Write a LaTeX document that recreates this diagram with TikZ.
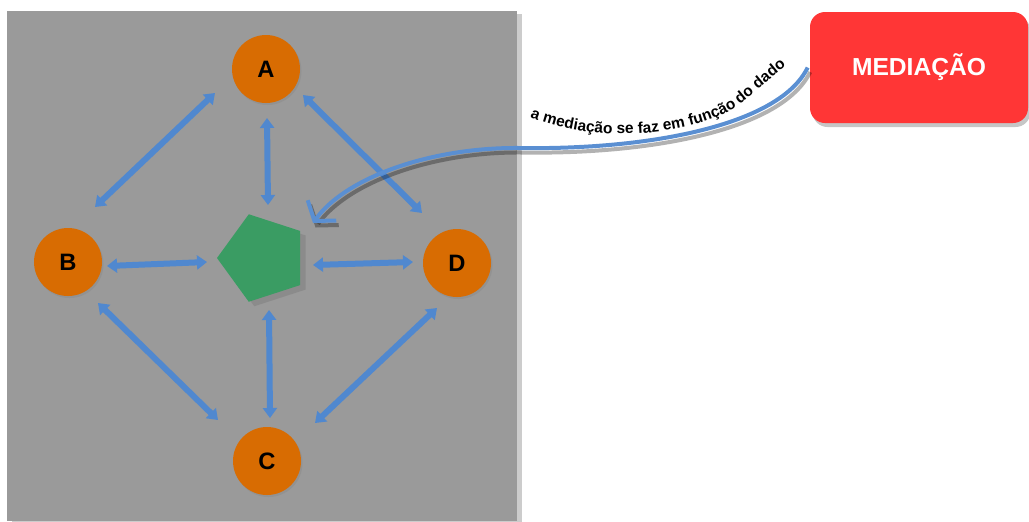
\documentclass[tikz,border=0pt]{standalone}
\usepackage{fontspec}
\setmainfont{Liberation Sans}
\usetikzlibrary{shapes.geometric, arrows.meta, shadows, decorations.text, calc}
\definecolor{panelgray}{HTML}{9A9A9A}
\definecolor{vertexorange}{HTML}{D86C02}
\definecolor{dadogreen}{HTML}{3A9C63}
\definecolor{arrowblue}{HTML}{5088CF}
\definecolor{curveblue}{HTML}{5A8FD2}
\definecolor{medred}{HTML}{FF3636}
\tikzset{
  vertex/.style={circle, fill=vertexorange, minimum size=13.6mm, inner sep=0pt,
                 font=\bfseries\fontsize{13.5}{15}\selectfont,
                 drop shadow={shadow xshift=0.3mm, shadow yshift=-0.4mm, opacity=0.3}},
  dado/.style={regular polygon, regular polygon sides=5, shape border rotate=90,
               fill=dadogreen, minimum size=18.4mm, inner sep=0pt,
               drop shadow={shadow xshift=1.1mm, shadow yshift=-0.9mm, opacity=0.55}},
  medbox/.style={rounded corners=3mm, fill=medred, minimum width=43.6mm, minimum height=22.2mm,
                 text=white, font=\bfseries\fontsize{14}{16}\selectfont,
                 drop shadow={shadow xshift=0.5mm, shadow yshift=-0.8mm, opacity=0.45}},
  biarrow/.style={arrowblue, line width=1.2mm,
                  {Triangle[width=2.8mm,length=2mm]}-{Triangle[width=2.8mm,length=2mm]}},
}

\begin{document}
\begin{tikzpicture}[x=0.2mm, y=-0.2mm]
    \useasboundingbox (0,0) rectangle (1029,521);
    \fill[panelgray, drop shadow={shadow xshift=0.9mm, shadow yshift=-0.6mm, opacity=0.4}]
      (7,11) rectangle (517,521);

    \node[vertex] (A) at (266,69) {A};
    \node[vertex] (B) at (68,262) {B};
    \node[vertex] (C) at (267,461) {C};
    \node[vertex] (D) at (457,263) {D};
    \node[dado] (pent) at (263,258) {};
    \node[medbox] (med) at (919,67.5) {MEDIAÇÃO};

    \draw[biarrow] ($(A)+(-51,24)$) -- ($(B)+(27,-55)$);
    \draw[biarrow] ($(A)+(37,26)$) -- ($(D)+(-35,-50)$);
    \draw[biarrow] ($(B)+(30,41)$) -- ($(C)+(-49,-41)$);
    \draw[biarrow] ($(D)+(-20,45)$) -- ($(C)+(48,-38)$);
    \draw[biarrow] ($(A)+(1,49)$) -- ($(pent)+(5,-53)$);
    \draw[biarrow] ($(pent)+(6,52)$) -- ($(C)+(3,-43)$);
    \draw[biarrow] ($(B)+(39,4)$) -- ($(pent)+(-56,4)$);
    \draw[biarrow] ($(pent)+(50,7)$) -- ($(D)+(-44,-1)$);

    \coordinate (alvo) at ($(pent)+(50,-35)$);
    \draw[curveblue, line width=0.8mm, -{Straight Barb[length=2.6mm,width=7mm]},
          preaction={draw=black, opacity=0.3, line width=0.8mm,
                     transform canvas={xshift=0.5mm, yshift=-0.9mm}}]
      ([xshift=-0.4mm]med.west) .. controls (780,125) and (650,150) .. (520,148)
      .. controls (430,147) and (345,178) .. (alvo);
    \path[decorate, decoration={text along path, text align=left,
          text={|\bfseries\fontsize{8.8}{10}\selectfont|a mediação se faz em função do dado}}]
      (530,117) .. controls (600,145) and (690,135) .. (735,108) -- (805,50);
  \end{tikzpicture}
\end{document}
